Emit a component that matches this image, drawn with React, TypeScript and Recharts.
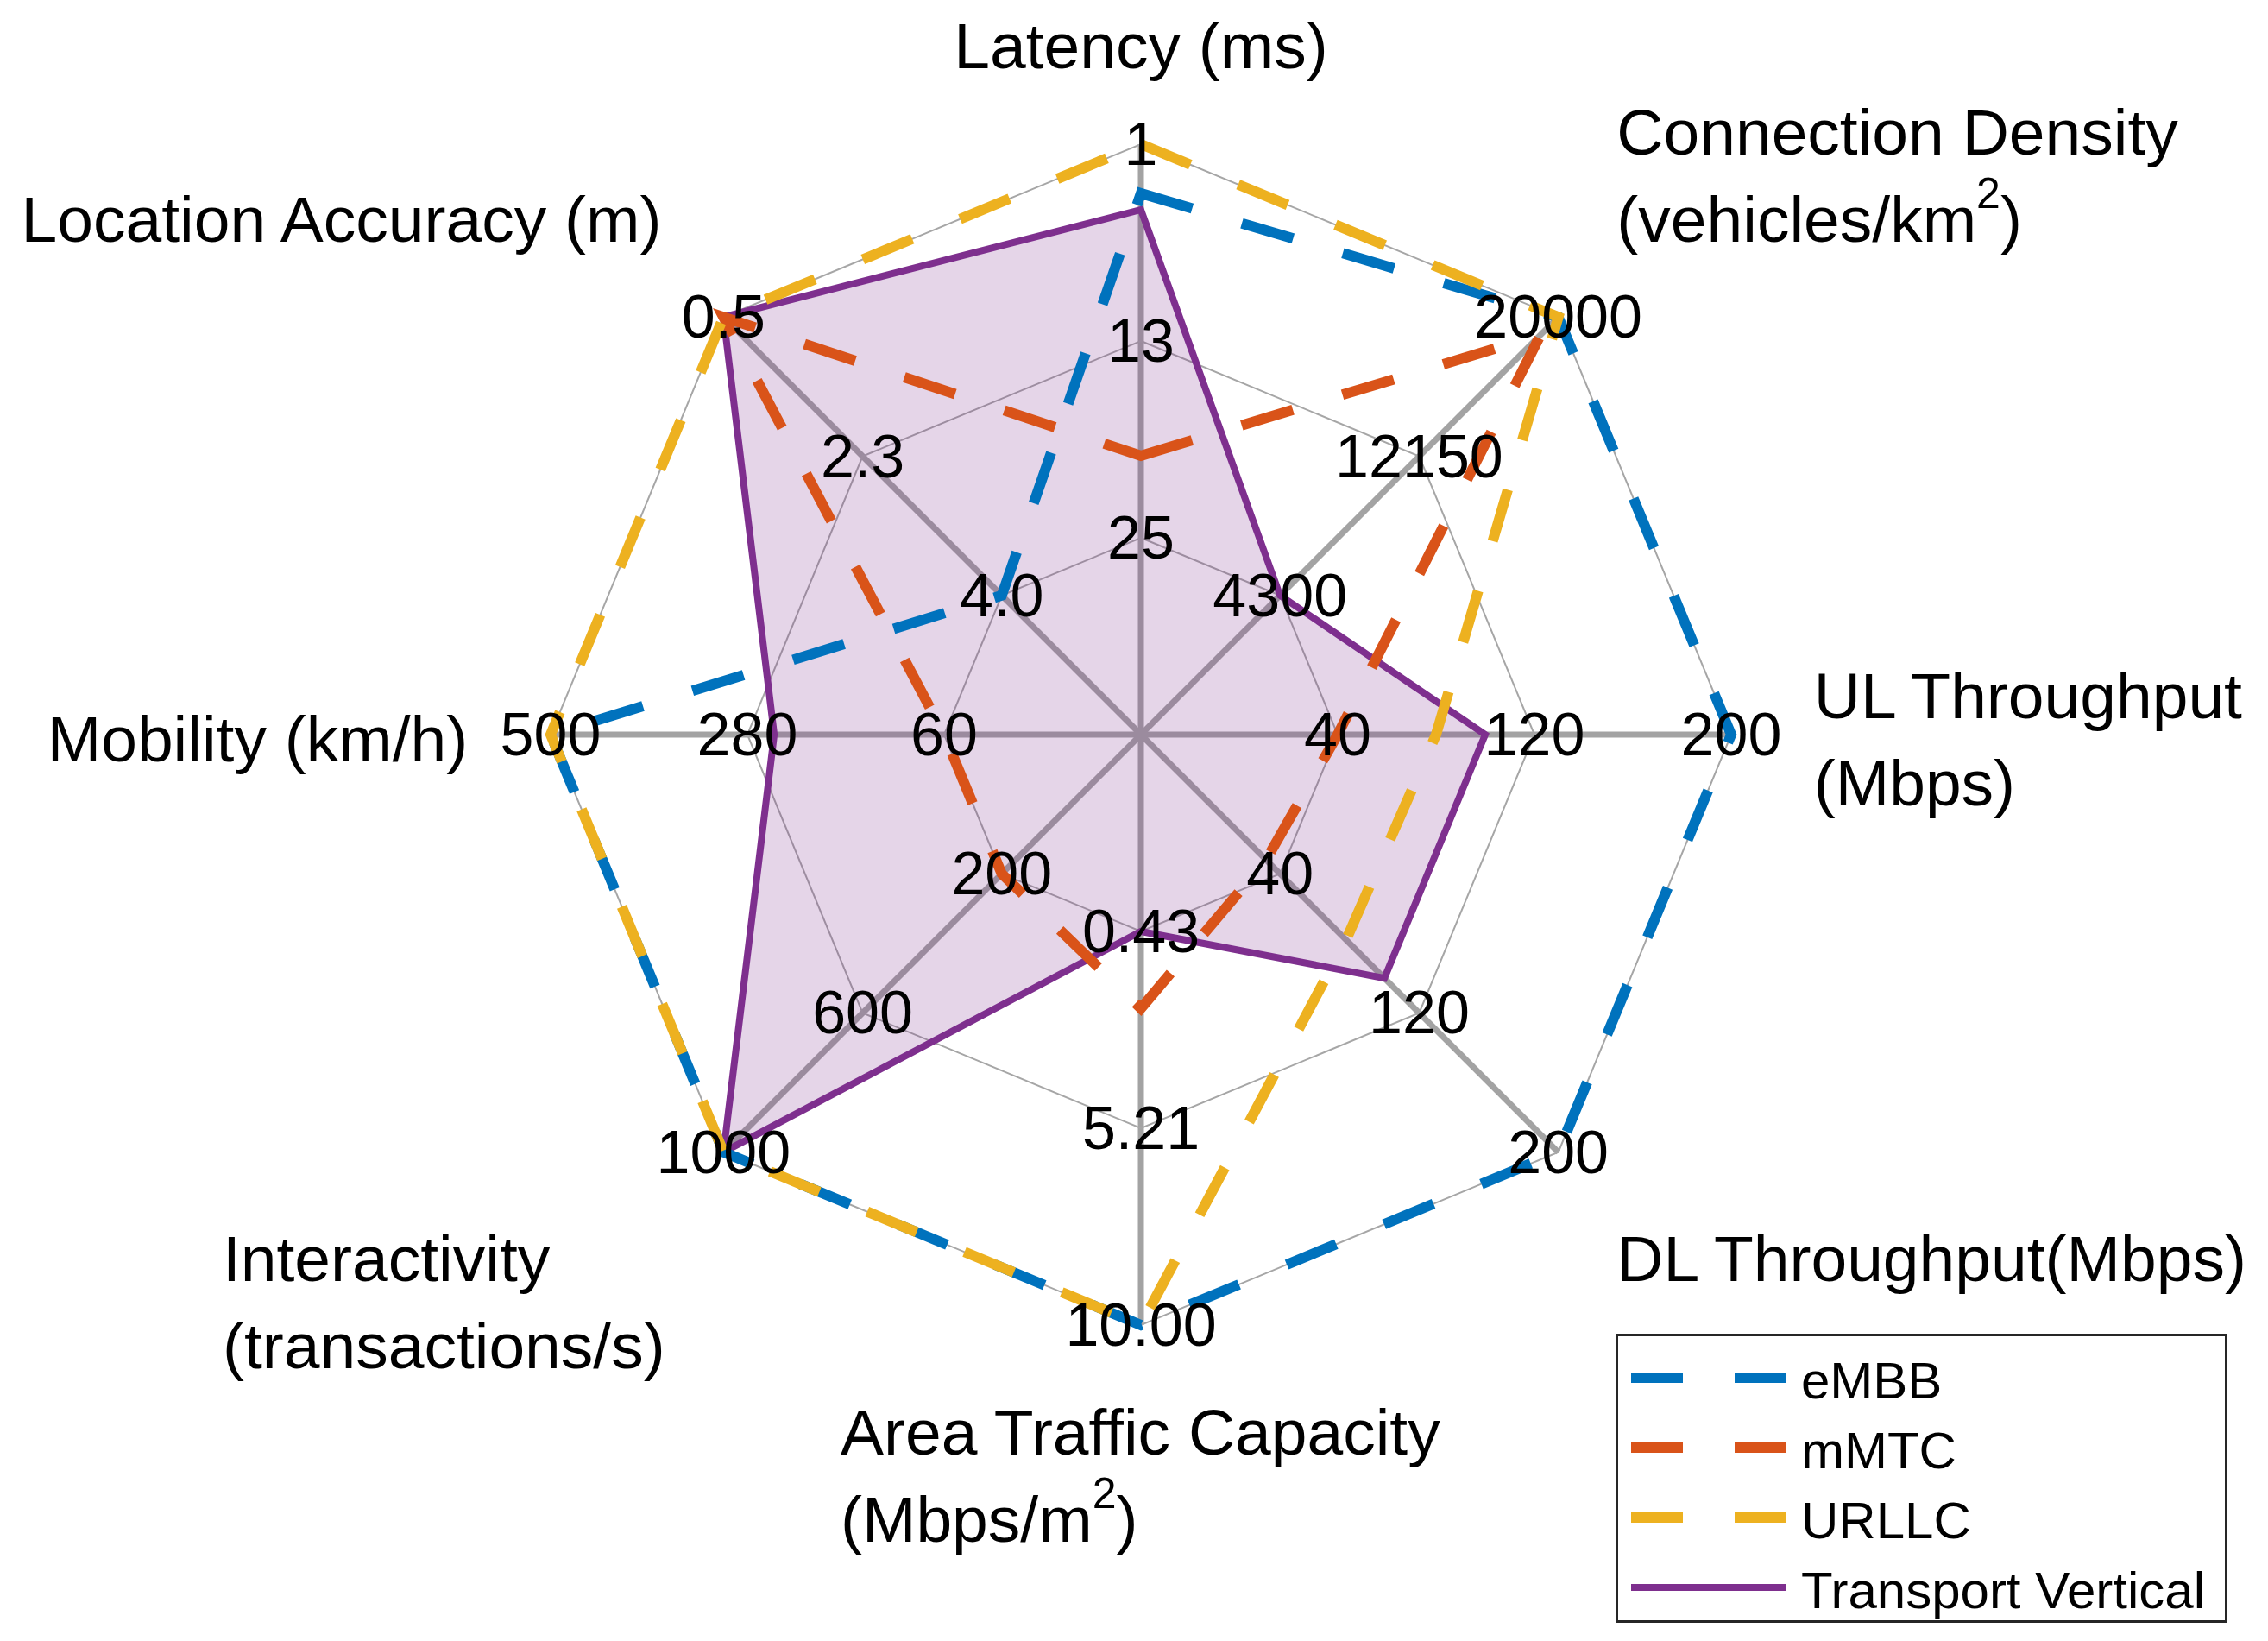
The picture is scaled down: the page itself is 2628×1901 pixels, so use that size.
import React from 'react';
import { RadarChart, Radar, PolarGrid, PolarAngleAxis, PolarRadiusAxis, Legend } from 'recharts';

// ---------- data ----------
const CATEGORIES = [
  'Latency',
  'Connection Density',
  'UL Throughput',
  'DL Throughput',
  'Area Traffic Capacity',
  'Interactivity',
  'Mobility',
  'Location Accuracy',
];

const AXIS_TITLES = [
  ['Latency (ms)'],
  ['Connection Density', '(vehicles/km^2)'],
  ['UL Throughput', '(Mbps)'],
  ['DL Throughput(Mbps)'],
  ['Area Traffic Capacity', '(Mbps/m^2)'],
  ['Interactivity', '(transactions/s)'],
  ['Mobility (km/h)'],
  ['Location Accuracy (m)'],
];

// value at the centre and at the outer ring of each axis
const AXIS_CENTER_VALUE = [37, -3550, -40, -40, -4.355, -200, -160, 5.75];
const AXIS_OUTER_VALUE = [1, 20000, 200, 200, 10, 1000, 500, 0.5];

// ring labels (inner, middle, outer)
const TICK_LABELS = [
  ['25', '13', '1'],
  ['4300', '12150', '20000'],
  ['40', '120', '200'],
  ['40', '120', '200'],
  ['0.43', '5.21', '10.00'],
  ['200', '600', '1000'],
  ['60', '280', '500'],
  ['4.0', '2.3', '0.5'],
];
const RING_LEVELS = [1 / 3, 2 / 3, 1];

const EMBB = [4, 20000, 200, 200, 10, 1000, 500, 4.0];
const MMTC = [20, 19000, 40, 32, 2.3, 200, 60, 0.5];
const URLLC = [1, 20000, 80, 78, 10, 1000, 500, 0.5];
const TRANSPORT = [5, 4300, 100, 100, 0.43, 1000, 250, 0.5];

const SERIES_NAMES = ['eMBB', 'mMTC', 'URLLC', 'Transport Vertical'];
const SERIES_VALUES = [EMBB, MMTC, URLLC, TRANSPORT];
const SERIES_COLORS = ['#0072BD', '#D95319', '#EDB120', '#7E2F8E'];

// ---------- layout ----------
const W = 2628;
const H = 1901;
const CX = 1322;
const CY = 851;
const R = 684;
const FONT = '"Liberation Sans", Arial, Helvetica, sans-serif';
const TITLE_SIZE = 75;
const TICK_SIZE = 70;
const LINE_H = 101;
const DASH = '62 60';

const norm = (v: number, i: number) =>
  (v - AXIS_CENTER_VALUE[i]) / (AXIS_OUTER_VALUE[i] - AXIS_CENTER_VALUE[i]);

const tableData = CATEGORIES.map((c, i) => {
  const row: any = { axis: c };
  SERIES_NAMES.forEach((s, k) => {
    row[s] = norm(SERIES_VALUES[k][i], i);
  });
  return row;
});

let ctx: CanvasRenderingContext2D | null = null;
const measure = (s: string, size: number) => {
  if (!ctx) {
    const c = document.createElement('canvas');
    ctx = c.getContext('2d');
  }
  if (!ctx) return s.length * size * 0.5;
  ctx.font = `${size}px ${FONT}`;
  return ctx.measureText(s.replace('^', '')).width;
};

const renderLine = (line: string) => {
  const idx = line.indexOf('^');
  if (idx < 0) return line;
  const before = line.slice(0, idx);
  const sup = line.slice(idx + 1, idx + 2);
  const after = line.slice(idx + 2);
  return [
    <tspan key="a">{before}</tspan>,
    <tspan key="b" fontSize={50} dy={-30}>
      {sup}
    </tspan>,
    <tspan key="c" fontSize={TITLE_SIZE} dy={30}>
      {after}
    </tspan>,
  ];
};

const AngleTick = (props: any) => {
  const { payload } = props;
  const i = CATEGORIES.indexOf(payload.value);
  if (i < 0) return null;
  const rad = (-payload.coordinate * Math.PI) / 180;
  const dx = Math.cos(rad);
  const dy = Math.sin(rad);

  // ring labels
  const ticks = RING_LEVELS.map((lv, k) => (
    <text
      key={`t${k}`}
      x={CX + R * lv * dx}
      y={CY + R * lv * dy}
      textAnchor="middle"
      dominantBaseline="central"
      fontSize={TICK_SIZE}
      fontFamily={FONT}
      fill="#000"
    >
      {TICK_LABELS[i][k]}
    </text>
  ));

  // axis title
  const factor = Math.abs(dx) < 0.3 ? 1.1 : 1.14;
  const ax = CX + R * factor * dx;
  const ay = CY + R * factor * dy;
  const lines = AXIS_TITLES[i];
  const n = lines.length;
  const bw = Math.max(...lines.map((l) => measure(l, TITLE_SIZE)));
  const left = dx > 0.3 ? ax : dx < -0.3 ? ax - bw : ax - bw / 2;
  const titles = lines.map((l, k) => {
    let yc: number;
    if (dy < -0.3) yc = ay - (n - k - 0.5) * LINE_H;
    else if (dy > 0.3) yc = ay + (k + 0.5) * LINE_H;
    else yc = ay + (k - (n - 1) / 2) * LINE_H;
    return (
      <text
        key={`l${k}`}
        x={left}
        y={yc + 5}
        textAnchor="start"
        dominantBaseline="central"
        fontSize={TITLE_SIZE}
        fontFamily={FONT}
        fill="#000"
      >
        {renderLine(l)}
      </text>
    );
  });

  return (
    <g>
      {ticks}
      {titles}
    </g>
  );
};

const LegendBox = () => (
  <div
    style={{
      width: 709,
      height: 335,
      boxSizing: 'border-box',
      border: '3px solid #262626',
      background: '#fff',
    }}
  >
    <svg width={703} height={329} style={{ display: 'block' }}>
      {SERIES_NAMES.map((name, k) => {
        const y = 48 + k * 81;
        return (
          <g key={name}>
            <line
              x1={15}
              x2={195}
              y1={y}
              y2={y}
              stroke={SERIES_COLORS[k]}
              strokeWidth={k === 3 ? 8 : 12}
              strokeDasharray={k === 3 ? undefined : '60 60'}
            />
            <text
              x={212}
              y={y + 3}
              dominantBaseline="central"
              fontSize={60}
              fontFamily={FONT}
              fill="#000"
            >
              {name}
            </text>
          </g>
        );
      })}
    </svg>
  </div>
);

export default function App() {
  return (
    <div style={{ width: W, height: H, background: '#fff' }}>
      <style>{`body{margin:0;background:#fff}`}</style>
      <RadarChart
        width={W}
        height={H}
        data={tableData}
        cx={CX}
        cy={CY}
        outerRadius={R}
        startAngle={90}
        endAngle={-270}
        margin={{ top: 0, right: 0, bottom: 0, left: 0 }}
      >
        <PolarGrid gridType="polygon" polarRadius={[0.5]} stroke="#a3a3a3" strokeWidth={7} />
        <PolarGrid
          gridType="polygon"
          radialLines={false}
          polarRadius={RING_LEVELS.map((lv) => lv * R)}
          stroke="#a6a6a6"
          strokeWidth={2}
        />
        <PolarRadiusAxis domain={[0, 1]} type="number" tick={false} axisLine={false} />
        <PolarAngleAxis dataKey="axis" tick={AngleTick} tickLine={false} axisLine={false} />
        <Radar
          name={SERIES_NAMES[3]}
          dataKey={SERIES_NAMES[3]}
          stroke={SERIES_COLORS[3]}
          strokeWidth={8}
          strokeLinejoin="miter"
          fill={SERIES_COLORS[3]}
          fillOpacity={0.2}
          dot={false}
          isAnimationActive={false}
        />
        {[0, 1, 2].map((k) => (
          <Radar
            key={SERIES_NAMES[k]}
            name={SERIES_NAMES[k]}
            dataKey={SERIES_NAMES[k]}
            stroke={SERIES_COLORS[k]}
            strokeWidth={12}
            strokeDasharray={DASH}
            strokeLinejoin="miter"
            fill="none"
            fillOpacity={0}
            dot={false}
            isAnimationActive={false}
          />
        ))}
        <Legend
          layout="vertical"
          align="right"
          verticalAlign="bottom"
          content={() => <LegendBox />}
          wrapperStyle={{ left: 1872, top: 1545, right: 'auto', bottom: 'auto', width: 709, height: 335 }}
        />
      </RadarChart>
    </div>
  );
}
